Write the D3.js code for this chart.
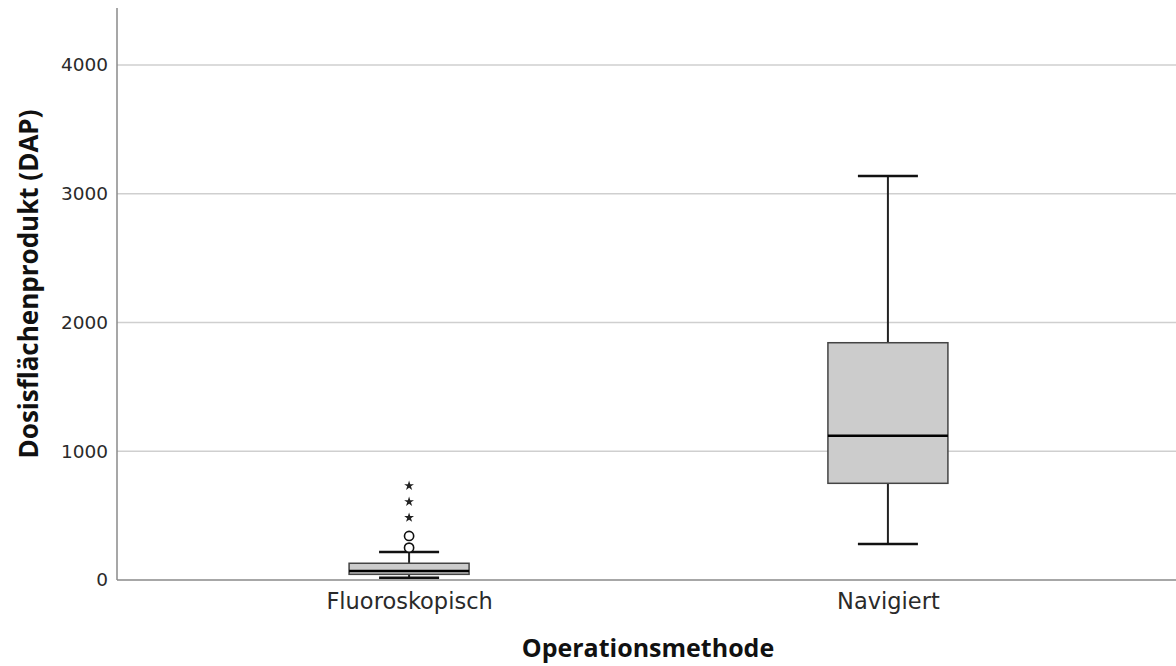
<!DOCTYPE html>
<html>
<head>
<meta charset="utf-8">
<script src="https://cdn.jsdelivr.net/npm/d3@7"></script>
<style>
  body { margin: 0; background: #fff; }
  svg { display: block; }
</style>
</head>
<body>
<div id="chart"></div>
<script>
// Chart data
const categories = ['Fluoroskopisch', 'Navigiert'];
const whiskerLow = [18, 280];
const q1 = [44, 751];
const median = [70, 1121];
const q3 = [130, 1843];
const whiskerHigh = [217, 3138];
const outliers = [[251, 342], []];
const extremes = [[484, 608, 732], []];
const yTicks = [0, 1000, 2000, 3000, 4000];

const width = 1176, height = 666;
const plotLeft = 117, plotRight = 1176, plotTop = 8, plotBottom = 580;

const svg = d3.select('#chart').append('svg')
    .attr('width', width)
    .attr('height', height);

// Scales
const y = d3.scaleLinear().domain([0, 4443]).range([plotBottom, plotTop]);
const x = d3.scalePoint().domain(categories).range([plotLeft, 1180]).padding(0.61);

// Gridlines
svg.append('g')
    .selectAll('line')
    .data(yTicks.filter(d => d > 0))
    .enter()
    .append('line')
        .attr('x1', plotLeft)
        .attr('x2', plotRight)
        .attr('y1', d => y(d))
        .attr('y2', d => y(d))
        .style('stroke', '#cfcfcf')
        .style('stroke-width', '1.5px');

// Y axis
const yAxis = svg.append('g')
    .attr('transform', 'translate(' + plotLeft + ',0)')
    .call(d3.axisLeft(y).tickValues(yTicks).tickFormat(d3.format('d')).tickSize(0).tickPadding(9));
yAxis.select('.domain').remove();
yAxis.selectAll('text')
    .style('font-family', "'DejaVu Sans', sans-serif")
    .style('font-size', '18.5px')
    .style('fill', '#2a2a2a');

// X axis
const xAxis = svg.append('g')
    .attr('transform', 'translate(0,' + plotBottom + ')')
    .call(d3.axisBottom(x).tickSize(0).tickPadding(13));
xAxis.select('.domain').remove();
xAxis.selectAll('text')
    .style('font-family', "'DejaVu Sans', sans-serif")
    .style('font-size', '22.5px')
    .style('fill', '#2a2a2a');

// Axis lines
svg.append('line')
    .attr('x1', plotLeft).attr('x2', plotLeft)
    .attr('y1', plotTop).attr('y2', plotBottom)
    .style('stroke', '#8a8a8a')
    .style('stroke-width', '1.5px');
svg.append('line')
    .attr('x1', plotLeft).attr('x2', plotRight)
    .attr('y1', plotBottom).attr('y2', plotBottom)
    .style('stroke', '#8a8a8a')
    .style('stroke-width', '1.5px');

// Boxes
const boxWidth = 120, capWidth = 60;
categories.forEach((cat, i) => {
    const cx = x(cat);
    const g = svg.append('g');

    // Whisker stems
    g.append('line')
        .attr('x1', cx).attr('x2', cx)
        .attr('y1', y(q3[i])).attr('y2', y(whiskerHigh[i]))
        .style('stroke', '#222').style('stroke-width', '2px');
    g.append('line')
        .attr('x1', cx).attr('x2', cx)
        .attr('y1', y(q1[i])).attr('y2', y(whiskerLow[i]))
        .style('stroke', '#222').style('stroke-width', '2px');

    // Whisker caps
    [whiskerLow[i], whiskerHigh[i]].forEach(v => {
        g.append('line')
            .attr('x1', cx - capWidth / 2).attr('x2', cx + capWidth / 2)
            .attr('y1', y(v)).attr('y2', y(v))
            .style('stroke', '#111').style('stroke-width', '2.5px');
    });

    // Box
    g.append('rect')
        .attr('x', cx - boxWidth / 2)
        .attr('y', y(q3[i]))
        .attr('width', boxWidth)
        .attr('height', y(q1[i]) - y(q3[i]))
        .style('fill', '#cccccc')
        .style('stroke', '#444')
        .style('stroke-width', '1.5px');

    // Median
    g.append('line')
        .attr('x1', cx - boxWidth / 2).attr('x2', cx + boxWidth / 2)
        .attr('y1', y(median[i])).attr('y2', y(median[i]))
        .style('stroke', '#000').style('stroke-width', '2.5px');

    // Outliers (circles)
    outliers[i].forEach(v => {
        g.append('circle')
            .attr('cx', cx).attr('cy', y(v))
            .attr('r', 4.6)
            .style('fill', '#fff')
            .style('stroke', '#111')
            .style('stroke-width', '1.6px');
    });

    // Extreme values (stars)
    extremes[i].forEach(v => {
        g.append('path')
            .attr('d', d3.symbol().type(d3.symbolStar).size(30)())
            .attr('transform', 'translate(' + cx + ',' + y(v) + ')')
            .style('fill', '#222');
    });
});

// Axis titles
svg.append('text')
    .attr('x', 648)
    .attr('y', 657)
    .attr('text-anchor', 'middle')
    .text('Operationsmethode')
    .style('font-family', "'Open Sans', sans-serif")
    .style('font-weight', 'bold')
    .style('font-size', '25px')
    .style('fill', '#111');

svg.append('text')
    .attr('transform', 'translate(38,284) rotate(-90)')
    .attr('text-anchor', 'middle')
    .text('Dosisflächenprodukt (DAP)')
    .style('font-family', "'Open Sans', sans-serif")
    .style('font-weight', 'bold')
    .style('font-size', '26px')
    .style('fill', '#111');
</script>
</body>
</html>
